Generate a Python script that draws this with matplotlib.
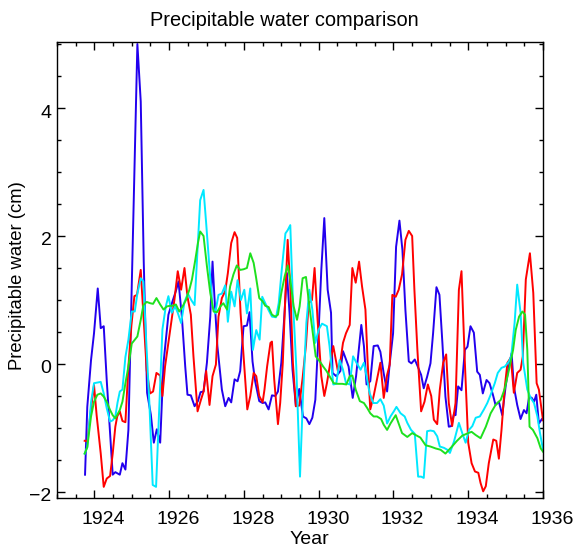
import matplotlib
matplotlib.use("Agg")
import matplotlib.pyplot as plt
from matplotlib.ticker import MultipleLocator
from matplotlib.transforms import ScaledTranslation

# Datos (anio, valor en cm)
blue_t = [1923.75, 1923.81, 1923.91, 1923.99, 1924.09, 1924.17, 1924.25, 1924.33, 1924.42, 1924.49,
          1924.56, 1924.62, 1924.68, 1924.75, 1924.83, 1924.91, 1924.99, 1925.07, 1925.15, 1925.24,
          1925.32, 1925.41, 1925.51, 1925.59, 1925.67, 1925.76, 1925.85, 1925.98, 1926.09, 1926.18,
          1926.25, 1926.34, 1926.43, 1926.49, 1926.58, 1926.68, 1926.77, 1926.84, 1926.92, 1927.01,
          1927.10, 1927.16, 1927.21, 1927.29, 1927.41, 1927.50, 1927.59, 1927.66, 1927.75, 1927.83,
          1927.90, 1927.99, 1928.08, 1928.15, 1928.23, 1928.30, 1928.41, 1928.50, 1928.57, 1928.66,
          1928.75, 1928.84, 1928.91, 1929.00, 1929.08, 1929.15, 1929.22, 1929.30, 1929.39, 1929.48,
          1929.58, 1929.67, 1929.75, 1929.83, 1929.91, 1930.00, 1930.07, 1930.15, 1930.24, 1930.33,
          1930.37, 1930.47, 1930.58, 1930.65, 1930.73, 1930.80, 1930.91, 1931.00, 1931.09, 1931.14,
          1931.21, 1931.28, 1931.38, 1931.47, 1931.58, 1931.65, 1931.74, 1931.83, 1931.90, 1931.99,
          1932.07, 1932.16, 1932.24, 1932.32, 1932.41, 1932.48, 1932.57, 1932.65, 1932.74, 1932.81,
          1932.90, 1932.99, 1933.06, 1933.15, 1933.23, 1933.31, 1933.39, 1933.48, 1933.55, 1933.62,
          1933.66, 1933.73, 1933.82, 1933.91, 1933.98, 1934.06, 1934.15, 1934.24, 1934.31, 1934.39,
          1934.49, 1934.57, 1934.66, 1934.73, 1934.82, 1934.91, 1935.00, 1935.07, 1935.16, 1935.22,
          1935.31, 1935.40, 1935.49, 1935.56, 1935.63, 1935.70, 1935.76, 1935.82, 1935.89, 1935.97,
          1936.00]
blue_v = [-1.73, -0.67, 0.06, 0.48, 1.18, 0.56, 0.59, -0.25, -1.08, -1.73,
          -1.69, -1.71, -1.73, -1.55, -1.65, -1.03, 1.0, 3.0, 5.0, 4.1,
          1.6, -0.45, -0.79, -1.23, -1.02, -1.23, 0.02, 0.77, 0.98, 1.14,
          1.29, 0.74, -0.04, -0.48, -0.49, -0.66, -0.58, -0.44, -0.43, 0.02,
          0.74, 1.6, 1.06, 0.28, -0.4, -0.66, -0.53, -0.6, -0.24, -0.27,
          -0.11, 0.59, 0.6, 0.81, 0.04, -0.27, -0.58, -0.61, -0.6, -0.71,
          -0.49, -0.5, -0.43, 0.02, 0.74, 1.42, 0.8, -0.09, -0.66, -0.39,
          -0.82, -0.85, -0.94, -0.84, -0.56, 0.54, 1.47, 2.28, 1.16, 0.8,
          -0.14, -0.19, -0.11, 0.2, 0.07, -0.04, -0.53, -0.19, 0.33, 0.61,
          0.28, -0.32, -0.27, 0.28, 0.29, 0.19, -0.15, -0.43, 0.01, 0.48,
          1.83, 2.24, 1.78, 0.84, 0.04, 0.01, 0.07, -0.04, -0.17, -0.38,
          -0.2, 0.01, 0.48, 1.2, 1.08, 0.32, -0.51, -0.98, -0.97, -0.77,
          -0.8, -0.35, -0.41, 0.22, 0.27, 0.59, 0.49, -0.12, -0.17, -0.46,
          -0.25, -0.3, -0.48, -0.64, -0.59, -0.8, -0.35, -0.09, 0.17, -0.35,
          -0.64, -0.86, -0.72, -0.77, -0.51, -0.53, -0.59, -0.48, -0.93, -0.86,
          -0.85]

red_t = [1923.74, 1923.81, 1923.91, 1923.99, 1924.06, 1924.17, 1924.25, 1924.33, 1924.42, 1924.49,
         1924.56, 1924.61, 1924.68, 1924.75, 1924.83, 1924.91, 1924.99, 1925.07, 1925.14, 1925.24,
         1925.31, 1925.40, 1925.49, 1925.57, 1925.66, 1925.76, 1925.82, 1925.89, 1925.98, 1926.07,
         1926.14, 1926.23, 1926.32, 1926.41, 1926.49, 1926.58, 1926.65, 1926.76, 1926.85, 1926.92,
         1926.99, 1927.08, 1927.16, 1927.25, 1927.32, 1927.41, 1927.50, 1927.57, 1927.66, 1927.75,
         1927.82, 1927.91, 1928.00, 1928.09, 1928.17, 1928.26, 1928.33, 1928.41, 1928.50, 1928.55,
         1928.62, 1928.71, 1928.75, 1928.81, 1928.91, 1928.97, 1929.04, 1929.09, 1929.17, 1929.24,
         1929.31, 1929.39, 1929.48, 1929.57, 1929.66, 1929.73, 1929.82, 1929.89, 1929.97, 1930.07,
         1930.15, 1930.22, 1930.31, 1930.39, 1930.45, 1930.51, 1930.58, 1930.65, 1930.73, 1930.83,
         1930.90, 1930.99, 1931.08, 1931.16, 1931.25, 1931.31, 1931.38, 1931.47, 1931.56, 1931.65,
         1931.74, 1931.83, 1931.90, 1931.97, 1932.06, 1932.14, 1932.23, 1932.32, 1932.41, 1932.50,
         1932.56, 1932.64, 1932.74, 1932.83, 1932.92, 1933.01, 1933.08, 1933.17, 1933.24, 1933.33,
         1933.41, 1933.48, 1933.57, 1933.66, 1933.75, 1933.82, 1933.91, 1934.00, 1934.09, 1934.18,
         1934.27, 1934.33, 1934.40, 1934.47, 1934.55, 1934.67, 1934.75, 1934.82, 1934.89, 1934.97,
         1935.05, 1935.14, 1935.22, 1935.31, 1935.40, 1935.46, 1935.54, 1935.65, 1935.74, 1935.83,
         1935.89, 1935.96, 1936.00]
red_v = [-1.2, -1.21, -0.7, -0.33, -0.8, -1.4, -1.92, -1.79, -1.75, -1.4,
         -0.98, -0.82, -0.74, -0.89, -0.91, -0.04, 0.6, 1.06, 1.08, 1.47,
         0.79, -0.1, -0.46, -0.43, -0.14, -0.18, -0.5, -0.04, 0.33, 0.69,
         1.0, 1.45, 1.16, 1.5, 1.05, 0.77, 0.12, -0.74, -0.56, -0.43,
         -0.11, -0.64, -0.19, -0.01, 0.74, 1.03, 1.14, 1.42, 1.89, 2.06,
         1.97, 0.8, 0.05, -0.71, -0.5, -0.14, -0.19, -0.5, -0.6, -0.4,
         -0.04, 0.33, 0.35, -0.24, -0.94, -0.61, 0.02, 0.8, 1.94, 1.21,
         0.02, -0.66, -0.65, -0.22, 0.3, 0.95, 1.0, 1.5, 0.69, -0.19,
         -0.5, -0.3, 0.02, 0.28, 0.09, -0.1, 0.04, 0.33, 0.48, 0.61,
         1.5, 1.27, 1.6, 1.21, 0.85, 0.02, -0.71, -0.5, -0.24, 0.02,
         -0.53, -0.17, -0.01, 1.08, 1.05, 1.16, 1.4, 1.94, 2.08, 2.0,
         1.16, 0.22, -0.74, -0.59, -0.32, -0.5, -0.87, -0.94, -0.4, 0.02,
         0.15, -0.61, -0.97, -0.61, 1.16, 1.45, 0.02, -1.23, -1.55, -1.68,
         -1.7, -1.86, -1.99, -1.91, -1.55, -1.18, -1.2, -1.48, -1.03, -0.4,
         0.02, 0.1, -0.45, -0.14, -0.09, 0.12, 1.32, 1.73, 1.11, -0.3,
         -0.4, -0.71, -0.88]

cyan_t = [1923.74, 1923.81, 1923.91, 1923.99, 1924.08, 1924.17, 1924.25, 1924.33, 1924.42, 1924.49,
          1924.56, 1924.62, 1924.68, 1924.75, 1924.83, 1924.91, 1925.00, 1925.08, 1925.15, 1925.24,
          1925.31, 1925.38, 1925.47, 1925.56, 1925.65, 1925.74, 1925.82, 1925.91, 1925.98, 1926.07,
          1926.16, 1926.23, 1926.32, 1926.41, 1926.50, 1926.59, 1926.68, 1926.76, 1926.83, 1926.92,
          1926.99, 1927.07, 1927.16, 1927.23, 1927.32, 1927.41, 1927.50, 1927.57, 1927.66, 1927.75,
          1927.83, 1927.92, 1928.01, 1928.08, 1928.17, 1928.24, 1928.33, 1928.42, 1928.49, 1928.57,
          1928.66, 1928.75, 1928.86, 1928.93, 1929.02, 1929.11, 1929.17, 1929.24, 1929.31, 1929.40,
          1929.50, 1929.58, 1929.67, 1929.75, 1929.83, 1929.91, 1930.00, 1930.09, 1930.22, 1930.29,
          1930.39, 1930.47, 1930.56, 1930.65, 1930.73, 1930.83, 1930.92, 1931.01, 1931.12, 1931.21,
          1931.28, 1931.36, 1931.46, 1931.56, 1931.65, 1931.74, 1931.83, 1931.92, 1932.01, 1932.08,
          1932.19, 1932.30, 1932.37, 1932.47, 1932.57, 1932.66, 1932.74, 1932.81, 1932.90, 1932.99,
          1933.08, 1933.17, 1933.24, 1933.35, 1933.44, 1933.51, 1933.62, 1933.75, 1933.84, 1933.93,
          1934.02, 1934.11, 1934.20, 1934.31, 1934.42, 1934.51, 1934.60, 1934.71, 1934.79, 1934.89,
          1934.98, 1935.09, 1935.15, 1935.24, 1935.31, 1935.40, 1935.47, 1935.58, 1935.67, 1935.76,
          1935.85, 1935.92, 1936.00]
cyan_v = [-1.4, -1.3, -0.6, -0.3, -0.29, -0.28, -0.46, -0.69, -0.9, -0.88,
          -0.82, -0.6, -0.43, -0.4, 0.11, 0.38, 0.82, 0.82, 1.1, 1.34,
          1.29, 0.43, -0.6, -1.89, -1.92, -0.6, 0.54, 0.9, 1.06, 0.8,
          0.9, 0.8, 0.64, 0.97, 1.1, 1.0, 0.92, 1.78, 2.56, 2.72,
          2.2, 1.57, 0.9, 0.79, 1.08, 1.1, 1.23, 0.66, 1.13, 0.9,
          1.31, 1.0, 1.16, 0.79, 1.18, 0.22, 0.53, 0.38, 1.05, 0.95,
          0.84, 0.74, 0.73, 0.95, 1.52, 2.04, 2.09, 2.17, 1.0, -0.04,
          -1.76, -0.5, 0.64, 1.16, 0.85, 0.33, 0.54, 0.63, 0.59, 0.28,
          -0.32, -0.31, 0.06, -0.09, -0.3, -0.32, 0.12, 0.02, -0.09, 0.02,
          -0.19, -0.45, -0.61, -0.61, -0.55, -0.65, -0.93, -0.82, -0.74, -0.67,
          -0.77, -0.82, -0.92, -1.03, -1.09, -1.76, -1.76, -1.78, -1.05, -1.04,
          -1.05, -1.13, -1.29, -1.31, -1.34, -1.39, -1.21, -0.92, -1.08, -1.23,
          -1.03, -0.97, -0.84, -0.82, -0.71, -0.61, -0.48, -0.3, -0.14, -0.06,
          -0.04, 0.04, 0.12, 0.64, 1.24, 0.8, 0.02, -0.4, -0.53, -0.61,
          -0.82, -1.08, -1.34]

green_t = [1923.74, 1923.81, 1923.91, 1923.99, 1924.08, 1924.17, 1924.25, 1924.33, 1924.42, 1924.49,
           1924.56, 1924.68, 1924.75, 1924.83, 1924.91, 1925.00, 1925.08, 1925.15, 1925.24, 1925.31,
           1925.40, 1925.49, 1925.57, 1925.66, 1925.76, 1925.85, 1925.94, 1926.03, 1926.10, 1926.18,
           1926.27, 1926.36, 1926.45, 1926.54, 1926.61, 1926.70, 1926.77, 1926.83, 1926.92, 1927.01,
           1927.10, 1927.19, 1927.28, 1927.37, 1927.45, 1927.55, 1927.63, 1927.72, 1927.81, 1927.90,
           1927.99, 1928.08, 1928.17, 1928.26, 1928.32, 1928.41, 1928.50, 1928.57, 1928.66, 1928.75,
           1928.84, 1928.91, 1929.00, 1929.09, 1929.17, 1929.24, 1929.33, 1929.42, 1929.49, 1929.57,
           1929.66, 1929.75, 1929.83, 1929.92, 1930.03, 1930.12, 1930.21, 1930.29, 1930.40, 1930.51,
           1930.63, 1930.74, 1930.83, 1930.90, 1930.99, 1931.10, 1931.21, 1931.30, 1931.38, 1931.47,
           1931.56, 1931.67, 1931.74, 1931.83, 1931.92, 1932.06, 1932.23, 1932.37, 1932.50, 1932.72,
           1932.86, 1932.99, 1933.13, 1933.26, 1933.39, 1933.55, 1933.70, 1933.84, 1934.00, 1934.09,
           1934.20, 1934.33, 1934.47, 1934.60, 1934.73, 1934.87, 1934.98, 1935.09, 1935.20, 1935.27,
           1935.36, 1935.45, 1935.52, 1935.58, 1935.64, 1935.73, 1935.85, 1935.94, 1936.00]
green_v = [-1.4, -1.3, -0.82, -0.59, -0.48, -0.46, -0.51, -0.59, -0.72, -0.8,
           -0.85, -0.72, -0.59, -0.3, -0.04, 0.32, 0.38, 0.43, 0.69, 0.92,
           0.97, 0.95, 0.94, 1.03, 0.93, 0.85, 0.9, 0.91, 0.91, 0.93,
           0.82, 0.9, 1.0, 1.16, 1.32, 1.63, 1.89, 2.07, 2.0, 1.53,
           1.11, 0.82, 0.81, 0.9, 0.95, 0.85, 1.21, 1.4, 1.54, 1.47,
           1.48, 1.5, 1.73, 1.58, 1.37, 1.03, 0.98, 0.91, 0.89, 0.77,
           0.74, 0.77, 1.11, 1.37, 1.54, 1.32, 0.9, 0.69, 0.9, 1.34,
           1.36, 0.9, 0.54, 0.12, 0.04, -0.04, -0.11, -0.19, -0.3, -0.31,
           -0.31, -0.32, -0.19, -0.18, -0.4, -0.58, -0.61, -0.69, -0.77, -0.82,
           -0.82, -0.86, -0.95, -1.03, -0.93, -0.8, -1.08, -1.14, -1.08, -1.15,
           -1.27, -1.29, -1.32, -1.34, -1.4, -1.3, -1.2, -1.12, -1.08, -1.06,
           -1.11, -1.16, -0.98, -0.77, -0.64, -0.56, -0.38, -0.09, 0.22, 0.53,
           0.74, 0.82, 0.77, 0.22, -0.98, -1.03, -1.16, -1.32, -1.37]

plt.rcParams['font.family'] = ['Liberation Sans', 'DejaVu Sans']

W, H = 577, 549
fig = plt.figure(figsize=(W / 100, H / 100), dpi=100)
ax = fig.add_axes([57 / W, 1 - 498 / H, 486 / W, 456.3 / H])

lw = 1.4
ax.plot(blue_t, blue_v, color='#2200ee', lw=lw)
ax.plot(red_t, red_v, color='#ff0000', lw=lw)
ax.plot(cyan_t, cyan_v, color='#00e8ff', lw=lw)
ax.plot(green_t, green_v, color='#1ee01e', lw=lw)

ax.set_xlim(1923, 1936)
ax.set_ylim(-2.094, 5.036)
ax.xaxis.set_major_locator(MultipleLocator(2))
ax.xaxis.set_minor_locator(MultipleLocator(0.5))
ax.yaxis.set_major_locator(MultipleLocator(2))
ax.yaxis.set_minor_locator(MultipleLocator(0.5))
ax.tick_params(which='both', direction='in', top=True, right=True, width=1.0, labelsize=14)
ax.tick_params(which='major', length=6)
ax.tick_params(which='minor', length=3)
ax.tick_params(axis='x', pad=9)
ax.tick_params(axis='y', pad=4)
for s in ax.spines.values():
    s.set_linewidth(1.0)

# las etiquetas del eje x estan algo desplazadas a la derecha en el original
shift = ScaledTranslation(9 / 100, 0, fig.dpi_scale_trans)
for lab in ax.get_xticklabels():
    lab.set_transform(lab.get_transform() + shift)
down = ScaledTranslation(0, -3 / 100, fig.dpi_scale_trans)
for lab in ax.get_yticklabels():
    lab.set_transform(lab.get_transform() + down)

fig.text(284 / W, 1 - 21 / H, "Precipitable water comparison", fontsize=14.4,
         ha='center', va='center')
fig.text(309 / W, 1 - 540 / H, "Year", fontsize=14, ha='center', va='center')
fig.text(18 / W, 1 - 276 / H, "Precipitable water (cm)", fontsize=13.3,
         ha='center', va='center', rotation=90)

fig.savefig("out.png", dpi=100)
